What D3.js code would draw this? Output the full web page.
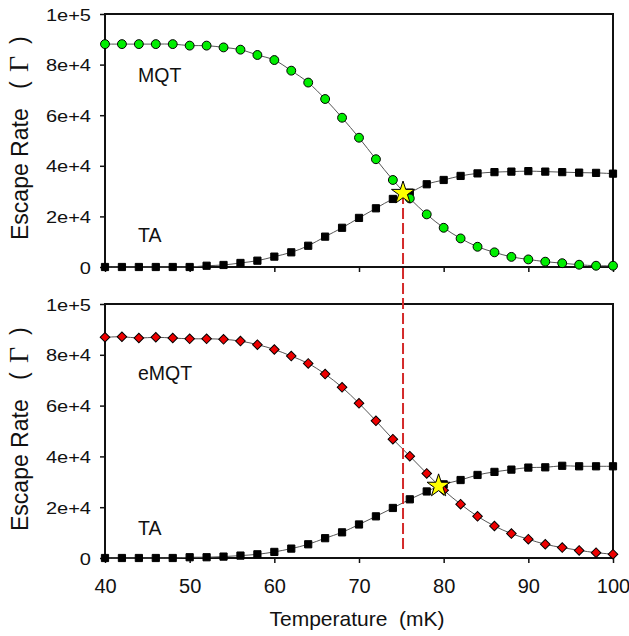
<!DOCTYPE html>
<html>
<head>
<meta charset="utf-8">
<script src="https://cdn.jsdelivr.net/npm/d3@7"></script>
<style>
  html, body { margin: 0; padding: 0; background: #fff; }
  svg { display: block; }
  text { font-family: Arial, "Liberation Sans", sans-serif; fill: #111; }
</style>
</head>
<body>
<svg id="chart" width="629" height="636"></svg>
<script>
// Temperature grid (mK)
const temps = [40, 42, 44, 46, 48, 50, 52, 54, 56, 58, 60, 62, 64, 66, 68, 70,
               72, 74, 76, 78, 80, 82, 84, 86, 88, 90, 92, 94, 96, 98, 100];

// Upper panel: macroscopic quantum tunnelling vs thermal activation
const mqt = [88100, 88100, 88100, 88100, 88100, 87500, 87500, 86800, 85900, 83800, 81800, 77600, 72900,
             66400, 59000, 51100, 42600, 34400, 27100, 20800, 15500, 11300, 8000, 5800, 4000, 3000,
             2100, 1500, 900, 500, 500];
const taTop = [0, 0, 0, 0, 0, 0, 500, 800, 1600, 2500, 4100, 5800, 8400,
               12000, 15500, 19400, 23200, 26900, 29400, 32700, 34400, 36000, 37000, 37500, 37700, 37900,
               37700, 37500, 37300, 37200, 36900];

// Lower panel: enhanced MQT vs thermal activation
const emqt = [86900, 87100, 86600, 86900, 86600, 86300, 86300, 86100, 85400, 84000, 82100, 79500, 76600,
              72400, 67200, 60900, 54000, 46800, 40100, 33300, 26700, 21200, 16400, 12600, 9600, 7400,
              5400, 4100, 3000, 2100, 1500];
const taBottom = [0, 0, 0, 0, 0, 300, 300, 550, 950, 1450, 2400, 3700, 5400,
                  7800, 10100, 13200, 16400, 19700, 23100, 26200, 29000, 30700, 32700, 33900, 34800, 35600,
                  35700, 36300, 36100, 36100, 36100];

// Crossover points [temperature, rate]
const crossTop = [75.2, 29200];
const crossBottom = [79.4, 28350];

// Axis ticks
const xTicks = [40, 50, 60, 70, 80, 90, 100];
const yTicks = [0, 20000, 40000, 60000, 80000, 100000];
const yTickLabels = ["0", "2e+4", "4e+4", "6e+4", "8e+4", "1e+5"];

const svg = d3.select("#chart");
const x = d3.scaleLinear().domain([40, 100]).range([105, 613]);
const yTop = d3.scaleLinear().domain([0, 100000]).range([267, 14]);
const yBot = d3.scaleLinear().domain([0, 100000]).range([558, 304]);

function panel(y, series, labels, showXLabels) {
  const g = svg.append("g");
  const [y0, y1] = y.range();

  // x axis ticks (outward)
  const xa = g.append("g").attr("transform", `translate(0,${y0})`)
    .call(d3.axisBottom(x).tickValues(xTicks).tickSize(5).tickSizeOuter(0)
      .tickFormat(showXLabels ? d3.format("d") : () => ""));
  xa.select(".domain").remove();
  xa.selectAll("line").attr("stroke", "#111").attr("stroke-width", 1.5);
  xa.selectAll("text").attr("font-size", 20).attr("dy", null).attr("y", 0)
    .attr("transform", "translate(0,35)").style("font-family", "Arial, 'Liberation Sans', sans-serif").attr("fill", "#111");

  // y axis ticks (outward), labels slightly widened
  const ya = g.append("g").attr("transform", `translate(${x.range()[0]},0)`)
    .call(d3.axisLeft(y).tickValues(yTicks).tickSize(5).tickSizeOuter(0).tickFormat(() => ""));
  ya.select(".domain").remove();
  ya.selectAll("line").attr("stroke", "#111").attr("stroke-width", 1.5);
  g.selectAll(".ylab").data(yTicks).join("text")
    .attr("class", "ylab")
    .attr("transform", d => `translate(91,${y(d) + 6.5}) scale(1.25,1)`)
    .attr("text-anchor", "end").attr("font-size", 16)
    .text((d, i) => yTickLabels[i]);

  // frame
  g.append("rect").attr("x", x.range()[0]).attr("y", y1)
    .attr("width", x.range()[1] - x.range()[0]).attr("height", y0 - y1)
    .attr("fill", "none").attr("stroke", "#111").attr("stroke-width", 2);

  const line = d3.line().x((d, i) => x(temps[i])).y(d => y(d)).curve(d3.curveCatmullRom);
  series.forEach(s => {
    g.append("path").datum(s.values).attr("d", line)
      .attr("fill", "none").attr("stroke", "#555").attr("stroke-width", 1);
  });
  series.forEach(s => {
    const sym = d3.symbol().type(s.symbol).size(s.size);
    g.selectAll(null).data(s.values).join("path")
      .attr("transform", (d, i) => `translate(${x(temps[i])},${y(d)})${s.rotate ? " rotate(45)" : ""}`)
      .attr("d", sym)
      .attr("fill", s.fill).attr("stroke", "#000").attr("stroke-width", 1);
  });

  labels.forEach(l => {
    g.append("text").attr("x", 138).attr("y", y(l.v)).attr("font-size", 19.5).text(l.t);
  });

  // vertical axis title, with widely spaced brackets around the Gamma
  const t = g.append("g").attr("transform", `translate(28,${y0 - 27}) rotate(-90)`);
  t.append("text").attr("x", 0).attr("y", 0).attr("font-size", 23).text("Escape Rate");
  t.append("text").attr("x", 151).attr("y", -1).attr("font-size", 23).text("(");
  t.append("text").attr("x", 168).attr("y", 0).attr("font-size", 28)
    .style("font-family", "'Liberation Serif', 'DejaVu Serif', serif").text("Γ");
  t.append("text").attr("x", 196).attr("y", -1).attr("font-size", 23).text(")");
  return g;
}

panel(yTop, [
  { values: taTop, symbol: d3.symbolSquare, size: 52, fill: "#000" },
  { values: mqt, symbol: d3.symbolCircle, size: 62, fill: "#00ee00" }
], [{ t: "MQT", v: 73200 }, { t: "TA", v: 9900 }], false);

panel(yBot, [
  { values: taBottom, symbol: d3.symbolSquare, size: 52, fill: "#000" },
  { values: emqt, symbol: d3.symbolSquare, size: 46, fill: "#ee0000", rotate: true }
], [{ t: "eMQT", v: 70000 }, { t: "TA", v: 9000 }], true);

// dashed marker joining the two panels at the upper crossover temperature
svg.append("line")
  .attr("x1", x(crossTop[0])).attr("x2", x(crossTop[0]))
  .attr("y1", yTop(crossTop[1])).attr("y2", yBot(2400))
  .attr("stroke", "#d42a2a").attr("stroke-width", 2).attr("stroke-dasharray", "11,4");

// crossover stars
const star = d3.symbol().type(d3.symbolStar).size(165);
[[crossTop, yTop], [crossBottom, yBot]].forEach(([c, y]) => {
  svg.append("path").attr("d", star)
    .attr("transform", `translate(${x(c[0])},${y(c[1])})`)
    .attr("fill", "#ffff00").attr("stroke", "#000").attr("stroke-width", 1);
});

// x axis title
svg.append("text").attr("x", 357).attr("y", 626).attr("text-anchor", "middle")
  .attr("font-size", 21).style("white-space", "pre").text("Temperature  (mK)");
</script>
</body>
</html>
